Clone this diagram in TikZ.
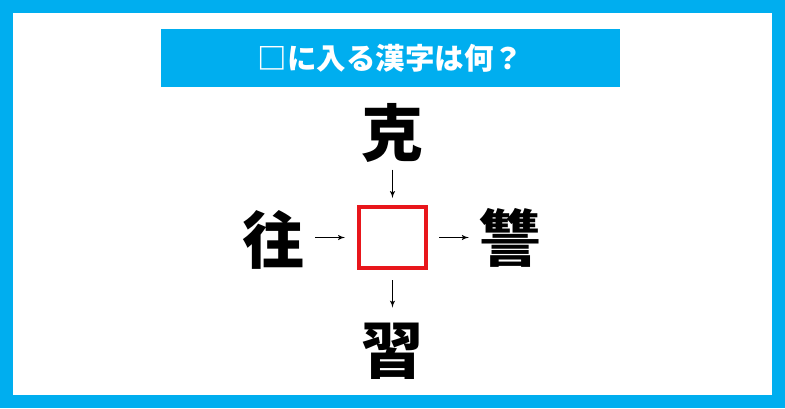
\documentclass[tikz,border=0pt]{standalone}
\usepackage{fontspec}
\newfontfamily\jpfont{Noto Sans CJK JP}
\usepackage{tikz}
\usetikzlibrary{calc}
\usetikzlibrary{positioning}
\usetikzlibrary{shapes,arrows}
\definecolor{frameCyan}{HTML}{00AEEF}
\definecolor{boxRed}{HTML}{E8161B}

\begin{document}
\begin{tikzpicture} [>=latex', x=1pt, y=-1pt]
            % Set primary nodes
            \tikzset{
                titleNode/.style={
                        rectangle,
                        fill=frameCyan,
                        text=white,
                        minimum height=58pt,
                        minimum width=459pt,
                        font=\jpfont\bfseries\fontsize{29.5}{34}\selectfont
                    }
            }
            \tikzset{
                kanjiNode/.style={
                        inner sep=0pt,
                        font=\jpfont\bfseries\fontsize{62}{70}\selectfont
                    }
            }
            \tikzset{
                blankNode/.style={
                        draw=boxRed,
                        line width=4pt,
                        rectangle,
                        inner sep=0pt,
                        minimum height=61pt,
                        minimum width=67pt
                    }
            }
            % Configure arrows
            \tikzstyle{arrow} = [line width=1.4pt, ->]
            % Frame
            \useasboundingbox (0,0) rectangle (785,408);
            \fill[frameCyan] (0,0) rectangle (785,408);
            \fill[white] (13,13) rectangle (772,395);
            % Placing nodes
            \node[titleNode](title) at (390.5,58){□に入る漢字は何？};
            \node[blankNode](blank) at (392.5,237.5){};
            \node[kanjiNode](top) at (392,133){克};
            \node[kanjiNode](left) at (273,240){往};
            \node[kanjiNode](right) at (510,238){讐};
            \node[kanjiNode](bottom) at (392,351){習};
            % Draw arrows
            \draw[arrow, shorten <=7pt, shorten >=7pt](top.south -| blank.north) -- (blank.north);
            \draw[arrow, shorten <=11pt, shorten >=12pt](left.east |- blank.west) -- (blank.west);
            \draw[arrow, shorten <=11pt, shorten >=10pt](blank.east) -- (right.west |- blank.east);
            \draw[arrow, shorten <=10pt, shorten >=15pt](blank.south) -- (bottom.north -| blank.south);
        \end{tikzpicture}
\end{document}
